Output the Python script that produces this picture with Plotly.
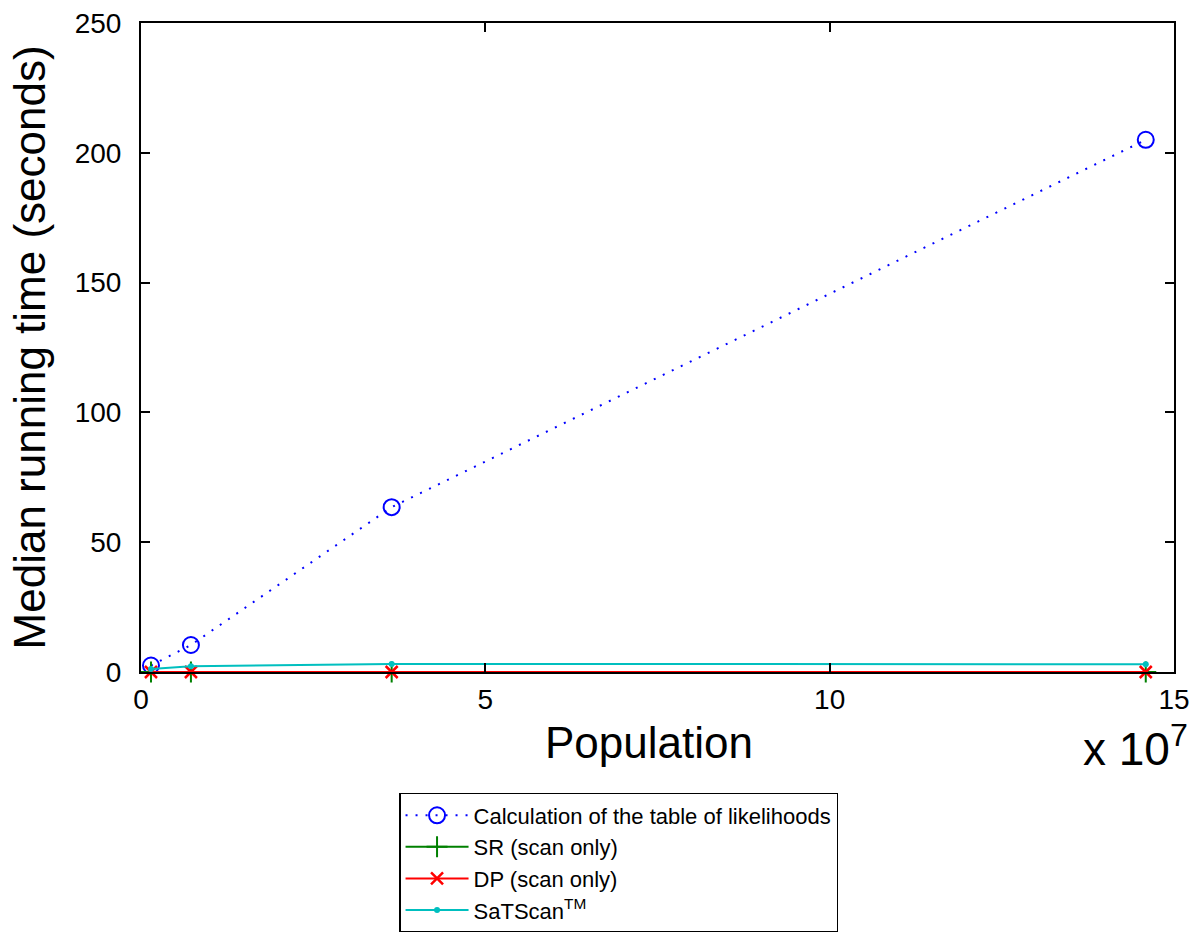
import plotly.graph_objects as go

population = [1.45e6, 7.25e6, 3.64e7, 1.459e8]
likelihood_table = [2.5, 10.4, 63.5, 205.0]
sr_scan = [0.0, 0.0, 0.0, 0.0]
dp_scan = [0.0, 0.0, 0.0, 0.0]
satscan = [1.2, 2.2, 3.1, 3.0]

x_ticks = [0, 5e7, 1e8, 1.5e8]
x_tick_labels = ["0", "5", "10", "15"]
y_ticks = [0, 50, 100, 150, 200, 250]

font_family = "Liberation Sans, Arial, sans-serif"

fig = go.Figure()
fig.add_trace(go.Scatter(
    x=population, y=likelihood_table, mode="lines+markers",
    name="Calculation of the table of likelihoods", cliponaxis=False,
    line=dict(color="#0000ff", dash="2px,8px", width=2),
    marker=dict(symbol="circle-open", size=16, color="#0000ff", line=dict(width=2)),
))
fig.add_trace(go.Scatter(
    x=population, y=sr_scan, mode="lines+markers", name="SR (scan only)", cliponaxis=False,
    line=dict(color="#008000", width=2),
    marker=dict(symbol="cross-thin-open", size=15, color="#008000", line=dict(width=2, color="#008000")),
))
fig.add_trace(go.Scatter(
    x=population, y=dp_scan, mode="lines+markers", name="DP (scan only)", cliponaxis=False,
    line=dict(color="#ff0000", width=2),
    marker=dict(symbol="x-thin-open", size=12, color="#ff0000", line=dict(width=2.5, color="#ff0000")),
))
fig.add_trace(go.Scatter(
    x=population, y=satscan, mode="lines+markers", name="SaTScan<sup>TM</sup>", cliponaxis=False,
    line=dict(color="#00bfbf", width=2),
    marker=dict(symbol="circle", size=6, color="#00bfbf"),
))

axis_common = dict(
    showgrid=False, zeroline=False, showline=True, linecolor="black", linewidth=2,
    mirror="ticks", ticks="inside", ticklen=9, tickwidth=1.5, tickcolor="black",
    tickfont=dict(size=28, color="black", family=font_family),
    ticklabeloverflow="allow", automargin=False,
)

fig.update_layout(
    width=1200, height=960,
    margin=dict(l=133, r=34, t=15, b=296),
    plot_bgcolor="white", paper_bgcolor="white",
    font=dict(family=font_family, color="black"),
    xaxis=dict(range=[0, 1.5e8], tickvals=x_ticks, ticktext=x_tick_labels,
               ticklabelstandoff=1, **axis_common),
    yaxis=dict(range=[0, 250], tickvals=y_ticks, ticklabelstandoff=12, **axis_common),
    showlegend=True,
    legend=dict(
        x=0.2498, y=-0.1864, xanchor="left", yanchor="top",
        bordercolor="black", borderwidth=1.5, bgcolor="white",
        font=dict(size=22, family=font_family, color="black"),
        itemwidth=63, tracegroupgap=0,
    ),
    annotations=[
        dict(text="Population", xref="paper", yref="paper", x=0.4918, y=-0.108,
             xanchor="center", yanchor="middle", showarrow=False, font=dict(size=44)),
        dict(text="Median running time (seconds)", xref="paper", yref="paper",
             x=-0.1075, y=0.5, xanchor="center", yanchor="middle", textangle=-90,
             showarrow=False, font=dict(size=44), borderpad=0),
        dict(text="x 10<sup>7</sup>", xref="paper", yref="paper", x=1.0155, y=-0.0663,
             xanchor="right", yanchor="top", showarrow=False, font=dict(size=46)),
    ],
)

fig.write_html("out.html")
